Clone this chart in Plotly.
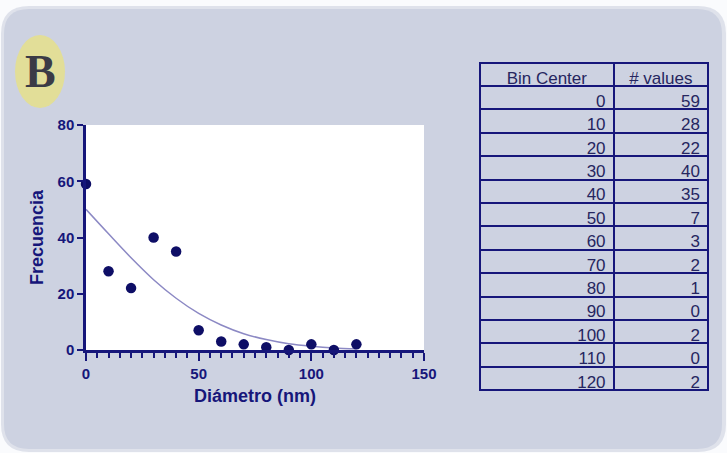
import plotly.graph_objects as go

# ---- data ----
bin_center = [0, 10, 20, 30, 40, 50, 60, 70, 80, 90, 100, 110, 120]
n_values = [59, 28, 22, 40, 35, 7, 3, 2, 1, 0, 2, 0, 2]
# fitted curve
fit_x = [0, 10, 20, 30, 40, 50, 60, 70, 80, 90, 100, 110, 120]
fit_y = [50, 41.3, 32.8, 25.0, 18.4, 13.0, 8.9, 5.8, 3.7, 2.2, 1.3, 0.7, 0.4]
x_ticks = [0, 50, 100, 150]
y_ticks = [0, 20, 40, 60, 80]
table_header = ["Bin Center", "# values"]

W, H = 727, 453
NAVY = "#16167a"
TXT = "#262660"


def px(x):
    return x / W


def py(y):
    return 1 - y / H


def rounded_path(x0, y0, x1, y1, r):
    pts = [
        f"M {px(x0 + r)} {py(y0)}",
        f"L {px(x1 - r)} {py(y0)}",
        f"Q {px(x1)} {py(y0)} {px(x1)} {py(y0 + r)}",
        f"L {px(x1)} {py(y1 - r)}",
        f"Q {px(x1)} {py(y1)} {px(x1 - r)} {py(y1)}",
        f"L {px(x0 + r)} {py(y1)}",
        f"Q {px(x0)} {py(y1)} {px(x0)} {py(y1 - r)}",
        f"L {px(x0)} {py(y0 + r)}",
        f"Q {px(x0)} {py(y0)} {px(x0 + r)} {py(y0)}",
        "Z",
    ]
    return " ".join(pts)


fig = go.Figure()

fig.add_trace(go.Scatter(
    x=fit_x, y=fit_y, mode="lines", line=dict(color="#8c89c4", width=1.5, shape="spline"),
    hoverinfo="skip", showlegend=False, cliponaxis=False,
))
fig.add_trace(go.Scatter(
    x=bin_center, y=n_values, mode="markers",
    marker=dict(color="#0e0e66", size=10.5), showlegend=False, cliponaxis=False,
))

fig.add_trace(go.Table(
    domain=dict(x=[px(480), px(708)], y=[py(394), py(63)]),
    columnwidth=[133, 94],
    header=dict(values=table_header, align="center", height=23,
                fill_color="rgba(0,0,0,0)", line=dict(color=NAVY, width=2),
                font=dict(family="Liberation Sans, Arial", size=17, color=TXT)),
    cells=dict(values=[bin_center, n_values], align="right", height=23.4,
               fill_color="rgba(0,0,0,0)", line=dict(color=NAVY, width=2),
               font=dict(family="Liberation Sans, Arial", size=17, color=TXT)),
))

shapes = [
    dict(type="path", xref="paper", yref="paper", path=rounded_path(1, 6, 726, 452, 28),
         fillcolor="#dfe2eb", line=dict(width=0), layer="below"),
    dict(type="path", xref="paper", yref="paper", path=rounded_path(4, 9, 722, 449, 25),
         fillcolor="#cdd2e1", line=dict(width=0), layer="below"),
    dict(type="rect", xref="paper", yref="paper", x0=px(86), x1=px(424), y0=py(350), y1=py(125),
         fillcolor="white", line=dict(width=0), layer="below"),
    dict(type="circle", xref="paper", yref="paper", x0=px(15), x1=px(65), y0=py(108), y1=py(35),
         fillcolor="#e2de98", line=dict(width=0), layer="below"),
]

fig.update_layout(
    width=W, height=H,
    margin=dict(l=0, r=0, t=0, b=0, autoexpand=False),
    paper_bgcolor="#fafbfd",
    plot_bgcolor="rgba(0,0,0,0)",
    shapes=shapes,
    annotations=[dict(text="<b>B</b>", x=px(40), y=py(71), xref="paper", yref="paper",
                      xanchor="center", yanchor="middle", showarrow=False,
                      font=dict(family="Liberation Serif, Times New Roman", size=46, color="#3b3b46"))],
    xaxis=dict(
        domain=[px(86), px(424)], range=[0, 150], tickvals=x_ticks, automargin=False,
        showgrid=False, zeroline=False, showline=True, linecolor=NAVY, linewidth=2.5,
        ticks="outside", ticklen=8, tickwidth=2, tickcolor=NAVY,
        minor=dict(dtick=5, ticks="outside", ticklen=5, tickwidth=2, tickcolor=NAVY, showgrid=False),
        tickfont=dict(family="Liberation Sans, Arial", size=15, color=NAVY, weight="bold"),
        title=dict(text="Diámetro (nm)", standoff=9,
                   font=dict(family="Liberation Sans, Arial", size=18, color=NAVY, weight="bold")),
        anchor="y",
    ),
    yaxis=dict(
        domain=[py(350), py(125)], range=[0, 80], tickvals=y_ticks, automargin=False,
        showgrid=False, zeroline=False, showline=True, linecolor=NAVY, linewidth=2.5,
        ticks="outside", ticklen=6, tickwidth=2, tickcolor=NAVY,
        tickfont=dict(family="Liberation Sans, Arial", size=15, color=NAVY, weight="bold"),
        title=dict(text="Frecuencia", standoff=10,
                   font=dict(family="Liberation Sans, Arial", size=18, color=NAVY, weight="bold")),
        anchor="x",
    ),
)

fig.write_html("out.html")
